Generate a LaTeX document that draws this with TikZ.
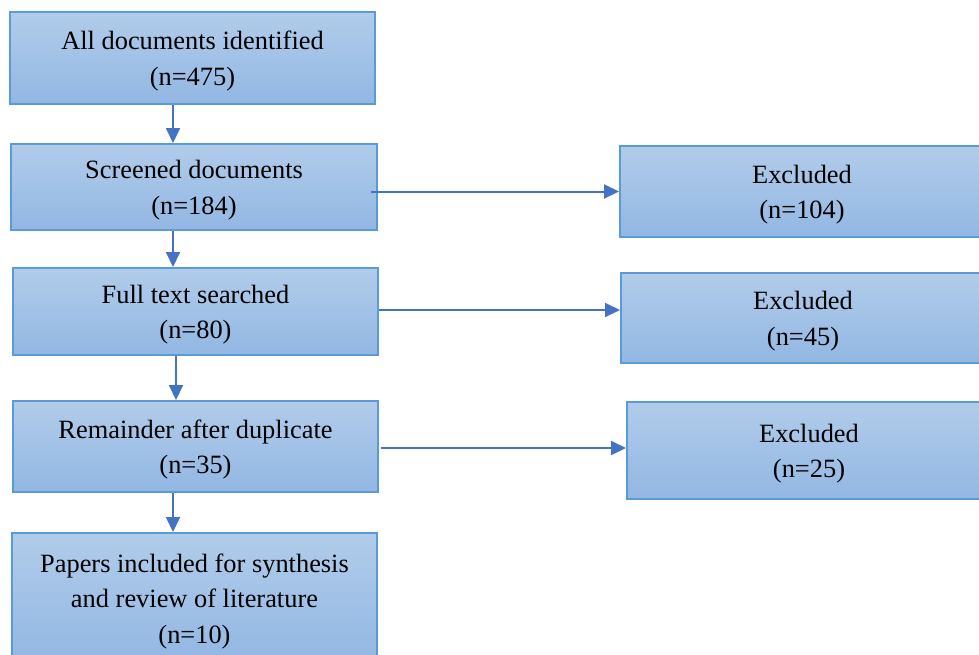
\documentclass[tikz,border=0pt]{standalone}
\usepackage{fontspec}
\setmainfont{Liberation Serif}
\usepackage{tikz}
\usetikzlibrary{arrows.meta}
\definecolor{boxline}{RGB}{91,155,213}
\definecolor{boxtop}{RGB}{177,204,234}
\definecolor{boxbottom}{RGB}{146,183,227}
\definecolor{flowblue}{RGB}{68,114,196}
\newcommand{\tallstrut}{\rule{0pt}{25pt}}
\tikzset{
  stagebox/.style={
    draw=boxline,
    line width=2pt,
    top color=boxtop,
    bottom color=boxbottom,
    align=center,
    inner sep=0pt,
    font=\fontsize{26.4}{35.5}\selectfont
  },
  flow/.style={
    draw=flowblue,
    line width=2pt,
    -{Triangle[length=15pt,width=14pt]}
  }
}
\begin{document}
\begin{tikzpicture}[x=1pt,y=-1pt]
      \useasboundingbox (0,0) rectangle (979,654);
      \clip (0,0) rectangle (979,654);
      % main stages
      \node[stagebox, minimum width=365pt, minimum height=92pt] (ident) at (192.5,58)
        {\tallstrut All documents identified\\(n=475)};
      \node[stagebox, minimum width=366pt, minimum height=86pt] (screen) at (194,187)
        {\tallstrut Screened documents\\(n=184)};
      \node[stagebox, minimum width=365pt, minimum height=87pt] (full) at (195.5,311.5)
        {\tallstrut Full text searched\\(n=80)};
      \node[stagebox, minimum width=365pt, minimum height=91pt] (remain) at (195.5,446.5)
        {\tallstrut Remainder after duplicate\\(n=35)};
      \node[stagebox, minimum width=365pt, minimum height=130pt] (incl) at (194.5,598)
        {\tallstrut Papers included for synthesis\\and review of literature\\(n=10)};
      % exclusions
      \node[stagebox, minimum width=364pt, minimum height=91pt] (excla) at (802,191.5)
        {\tallstrut Excluded\\(n=104)};
      \node[stagebox, minimum width=364pt, minimum height=90pt] (exclb) at (803,318)
        {\tallstrut Excluded\\(n=45)};
      \node[stagebox, minimum width=364pt, minimum height=97pt] (exclc) at (809,450.5)
        {\tallstrut Excluded\\(n=25)};
      % connectors
      \draw[flow] ([xshift=-19.5pt]ident.south) -- ([xshift=-19.5pt]ident.south |- screen.north);
      \draw[flow] ([xshift=-21pt]screen.south) -- ([xshift=-21pt]screen.south |- full.north);
      \draw[flow] ([xshift=-19.5pt]full.south) -- ([xshift=-19.5pt]full.south |- remain.north);
      \draw[flow] ([xshift=-22.5pt]remain.south) -- ([xshift=-22.5pt]remain.south |- incl.north);
      \draw[flow] ([xshift=-7pt]screen.east |- excla.west) -- (excla.west);
      \draw[flow] ([yshift=1.5pt]full.east) -- ([yshift=1.5pt]full.east -| exclb.west);
      \draw[flow] ([xshift=2pt,yshift=-1.5pt]remain.east) -- ([yshift=-1.5pt]remain.east -| exclc.west);
    \end{tikzpicture}
\end{document}
